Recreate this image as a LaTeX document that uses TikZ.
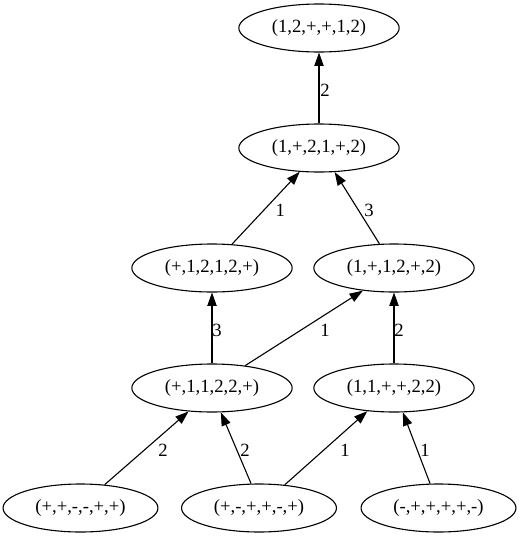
\documentclass[tikz,border=0pt]{standalone}
\usepackage{fontspec}
\setmainfont{Liberation Serif}
\usetikzlibrary{shapes.geometric, arrows.meta}
\begin{document}
\begin{tikzpicture}[x = 1pt, y = -1pt,
        state/.style = {ellipse, draw, line width = 1.1pt, inner xsep = 9.6pt, inner ysep = 0pt, minimum height = 48pt, font = \fontsize{18.67}{22}\selectfont},
        edge/.style = {draw, line width = 1.1pt, -{Triangle[length = 13.3pt, width = 9.3pt]}},
        lbl/.style = {font = \fontsize{18.67}{22}\selectfont, inner sep = 0pt, yshift = -2pt}]
    \useasboundingbox (0, 0) rectangle (520, 539);
    \foreach \n/\x/\y/\t in {n1/319/28/{(1,2,+,+,1,2)}, n2/319/148/{(1,+,2,1,+,2)}, n3/212/268/{(+,1,2,1,2,+)}, n4/394/268/{(1,+,1,2,+,2)}, n5/212/388/{(+,1,1,2,2,+)}, n6/394/388/{(1,1,+,+,2,2)}, n7/80.5/508/{(+,+,-,-,+,+)}, n8/259/508/{(+,-,+,+,-,+)}, n9/438.5/508/{(-,+,+,+,+,-)}}{
        \node[state] (\n) at (\x, \y) {\t};
    }
    \foreach \s/\sa/\d/\da/\w/\dx in {n2/north/n1/south/2/6, n3/50/n2/231.6/1/14.5, n4/121/n2/303.7/3/12, n5/north/n3/south/3/5, n5/34.5/n4/216.9/1/21, n6/north/n4/south/2/5, n7/44.4/n5/225/2/16.5, n8/108.4/n5/290.6/2/9, n8/42.7/n6/221.6/1/19, n9/109.5/n6/290.6/1/8.5}{
        \draw[edge] (\s.\sa) -- node[lbl, xshift = \dx pt] {\w} (\d.\da);
    }
\end{tikzpicture}
\end{document}
